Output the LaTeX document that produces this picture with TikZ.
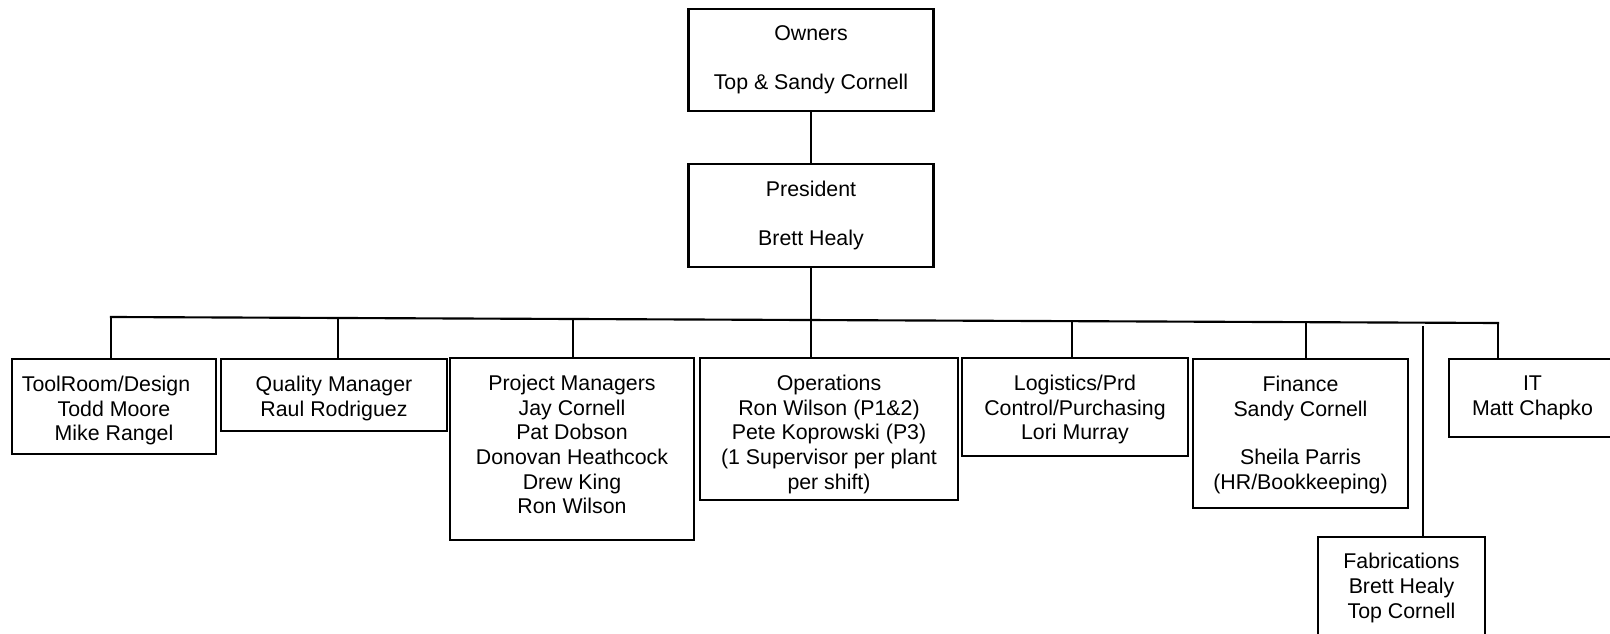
\documentclass[tikz,border=0pt]{standalone}
\usepackage{fontspec}
\setmainfont{Liberation Sans}
\begin{document}
\begin{tikzpicture}[x=0.75pt,y=-0.75pt,
  box/.style={draw, line width=1.6pt, inner sep=0pt},
  txt/.style={anchor=north, align=center, inner sep=0pt, font=\fontsize{16}{18.5}\selectfont},
  conn/.style={line width=1.6pt}]
\fill[white] (0,0) rectangle (1610,634);
\useasboundingbox (0,0) rectangle (1610,634);
\clip (0,0) rectangle (1610,634);
% top boxes
\node[box, minimum width=183.75pt, minimum height=76.5pt] (own) at (811,60) {};
\node[txt] (ownt) at ([yshift=-13.3pt]own.north) {Owners\\[18pt]Top \& Sandy Cornell};
\node[box, minimum width=183.75pt, minimum height=77.25pt] (pres) at (811,215.5) {};
\node[txt] (prest) at ([yshift=-13.3pt]pres.north) {President\\[18pt]Brett Healy};
% department boxes
\node[box, minimum width=153pt, minimum height=71.25pt] (tool) at (114,406.5) {};
\node[txt] (toolt) at ([yshift=-13.3pt]tool.north) {ToolRoom/Design\rule{12pt}{0pt}\\Todd Moore\\Mike Rangel};
\node[box, minimum width=169.5pt, minimum height=54pt] (qual) at (334,395) {};
\node[txt] (qualt) at ([yshift=-13.3pt]qual.north) {Quality Manager\\Raul Rodriguez};
\node[box, minimum width=183pt, minimum height=136.5pt] (pm) at (572,449) {};
\node[txt] (pmt) at ([yshift=-13.3pt]pm.north) {Project Managers\\Jay Cornell\\Pat Dobson\\Donovan Heathcock\\Drew King\\Ron Wilson};
\node[box, minimum width=193.5pt, minimum height=106.5pt] (ops) at (829,429) {};
\node[txt] (opst) at ([yshift=-13.3pt]ops.north) {Operations\\Ron Wilson (P1\&2)\\Pete Koprowski (P3)\\(1 Supervisor per plant\\per shift)};
\node[box, minimum width=169.5pt, minimum height=73.5pt] (log) at (1075,407) {};
\node[txt] (logt) at ([yshift=-13.3pt]log.north) {Logistics/Prd\\Control/Purchasing\\Lori Murray};
\node[box, minimum width=161.25pt, minimum height=111.75pt] (fin) at (1300.5,433.5) {};
\node[txt] (fint) at ([yshift=-13.3pt]fin.north) {Finance\\Sandy Cornell\\[18pt]Sheila Parris\\(HR/Bookkeeping)};
\node[box, minimum width=125.25pt, minimum height=92.25pt] (fab) at (1401.5,598.5) {};
\node[txt] (fabt) at ([yshift=-12.8pt]fab.north) {Fabrications\\Brett Healy\\Top Cornell};
\node[box, minimum width=143.25pt, minimum height=58.5pt] (it) at (1544.5,398) {};
\node[txt] (itt) at ([xshift=-9pt,yshift=-13.3pt]it.north) {IT\\Matt Chapko};
% connectors
\draw[conn] (own.south) -- (pres.north);
\coordinate (busL) at (111,317);
\coordinate (busR) at (1498,323);
\draw[conn, line cap=rect] (busL) -- (busR);
\draw[conn] (pres.south) -- (pres.south |- ops.north);
\draw[conn] (busL) -- (busL |- tool.north);
\coordinate (jq) at (338,318);
\draw[conn] (jq) -- (jq |- qual.north);
\coordinate (jp) at (573,319);
\draw[conn] (jp) -- (jp |- pm.north);
\coordinate (jl) at (1072,321.2);
\draw[conn] (jl) -- (jl |- log.north);
\coordinate (jf) at (1306,322.2);
\draw[conn] (jf) -- (jf |- fin.north);
\coordinate (jb) at (1423,326);
\draw[conn] (jb) -- (jb |- fab.north);
\draw[conn] (busR) -- (busR |- it.north);
\end{tikzpicture}
\end{document}
